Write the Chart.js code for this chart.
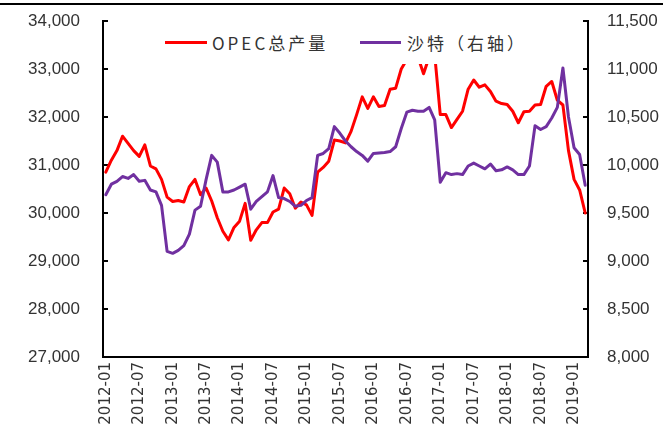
<!DOCTYPE html>
<html>
<head>
<meta charset="utf-8">
<script src="https://cdn.jsdelivr.net/npm/chart.js@4.4.1/dist/chart.umd.min.js"></script>
<style>
    html, body { margin: 0; padding: 0; background: #fff; }
    #wrap { position: relative; width: 667px; height: 443px; }
    #topline { position: absolute; left: 0; top: 3px; width: 663px; height: 2px; background: #000; }
    #legendBox { position: absolute; left: 150px; top: 27px; width: 385px; height: 37px; background: #fff; }
    .swatch { position: absolute; top: 41px; height: 3px; }
    .ltext { position: absolute; top: 32px; line-height: 22px; font-family: 'Noto Sans CJK SC', sans-serif; font-size: 17px; letter-spacing: 3px; color: #333; white-space: nowrap; }
</style>
</head>
<body>
<div id="wrap">
    <canvas id="opecChart"></canvas>
    <div id="topline"></div>
    <div id="legendBox"></div>
    <div class="swatch" style="left:165px;width:42px;background:#FF0000"></div>
    <div class="ltext" style="left:212px">OPEC总产量</div>
    <div class="swatch" style="left:360px;width:41px;background:#7030A0"></div>
    <div class="ltext" style="left:407px">沙特（右轴）</div>
</div>
<script>
// months 2012-01 .. 2019-03
const months = [];
for (let y = 2012; y <= 2019; y++) {
    for (let m = 1; m <= 12; m++) {
        if (y === 2019 && m > 3) break;
        months.push(y + '-' + String(m).padStart(2, '0'));
    }
}

// OPEC total output (left axis)
const opecOutput = [
    30850, 31100, 31300, 31600, 31450, 31300, 31180, 31420, 30980, 30920, 30700, 30330,
    30240, 30260, 30230, 30550, 30700, 30380, 30520, 30250, 29900, 29620, 29440, 29700,
    29830, 30200, 29430, 29650, 29800, 29800, 30020, 30080, 30520, 30400, 30100, 30230,
    30170, 29950, 30850, 30950, 31080, 31520, 31500, 31460, 31700, 32050, 32420, 32180,
    32420, 32220, 32240, 32580, 32600, 33000, 33200, 33300, 33250, 32900, 33250, 33300,
    32050, 32050, 31780, 31950, 32120, 32580, 32770, 32620, 32670, 32530, 32330, 32280,
    32260, 32120, 31880, 32110, 32120, 32250, 32260, 32640, 32740, 32350, 32250, 31300,
    30700, 30480, 30000
];

// Saudi output (right axis)
const saudiOutput = [
    9690, 9800, 9830, 9880, 9860, 9900, 9830, 9840, 9740, 9720, 9580, 9100,
    9080, 9110, 9160, 9280, 9530, 9570, 9850, 10100, 10030, 9720, 9720, 9740,
    9770, 9800, 9540, 9620, 9670, 9720, 9890, 9660, 9650, 9620, 9570, 9580,
    9630, 9660, 10100, 10120, 10170, 10400, 10330, 10250, 10190, 10140, 10100, 10040,
    10120, 10125, 10130, 10140, 10190, 10380, 10550, 10570, 10560, 10560, 10600, 10470,
    9820, 9920, 9900, 9910, 9900, 9990, 10020, 9990, 9960, 10010, 9940, 9950,
    9980, 9950, 9900, 9900, 9990, 10410, 10370, 10400, 10490, 10600, 11010, 10500,
    10180, 10110, 9790
];

const tickFont = { family: "'Liberation Sans', sans-serif", size: 17 };
const xFont = { family: "'DejaVu Sans', sans-serif", size: 15 };

const ctx = document.getElementById('opecChart').getContext('2d');
new Chart(ctx, {
    type: 'line',
    data: {
        labels: months,
        datasets: [{
            label: 'OPEC总产量',
            data: opecOutput,
            borderColor: '#FF0000',
            borderWidth: 3,
            pointRadius: 0,
            borderJoinStyle: 'round',
            borderCapStyle: 'round',
            yAxisID: 'y',
            order: 1
        }, {
            label: '沙特（右轴）',
            data: saudiOutput,
            borderColor: '#7030A0',
            borderWidth: 3,
            pointRadius: 0,
            borderJoinStyle: 'round',
            borderCapStyle: 'round',
            yAxisID: 'y1',
            order: 0
        }]
    },
    options: {
        responsive: true,
        maintainAspectRatio: false,
        animation: false,
        layout: { padding: { top: 21, left: 0, right: 0, bottom: 0 } },
        plugins: {
            legend: { display: false },
            tooltip: { enabled: false }
        },
        scales: {
            x: {
                offset: true,
                grid: { display: false, drawTicks: false },
                border: { display: true, color: '#000', width: 2 },
                ticks: {
                    autoSkip: false,
                    minRotation: 90,
                    maxRotation: 90,
                    padding: 5,
                    color: '#333',
                    font: xFont,
                    callback: (v, i) => i % 6 === 0 ? months[i] : ''
                },
                afterFit: s => { s.height = 86; s.paddingLeft = 0; s.paddingRight = 0; }
            },
            y: {
                position: 'left',
                min: 27000,
                max: 34000,
                grid: { display: true, drawOnChartArea: false, drawTicks: true, tickLength: -5, color: '#000', lineWidth: 2 },
                border: { display: true, color: '#000', width: 2 },
                ticks: {
                    stepSize: 1000,
                    padding: 28,
                    color: '#333',
                    font: tickFont,
                    callback: v => v.toLocaleString('en-US')
                },
                afterFit: s => { s.width = 103; s.paddingTop = 0; s.paddingBottom = 0; }
            },
            y1: {
                position: 'right',
                min: 8000,
                max: 11500,
                grid: { display: true, drawOnChartArea: false, drawTicks: true, tickLength: -5, color: '#000', lineWidth: 2 },
                border: { display: true, color: '#000', width: 2 },
                ticks: {
                    stepSize: 500,
                    padding: 24,
                    color: '#333',
                    font: tickFont,
                    callback: v => v.toLocaleString('en-US')
                },
                afterFit: s => { s.width = 79; s.paddingTop = 0; s.paddingBottom = 0; }
            }
        }
    }
});
</script>
</body>
</html>
